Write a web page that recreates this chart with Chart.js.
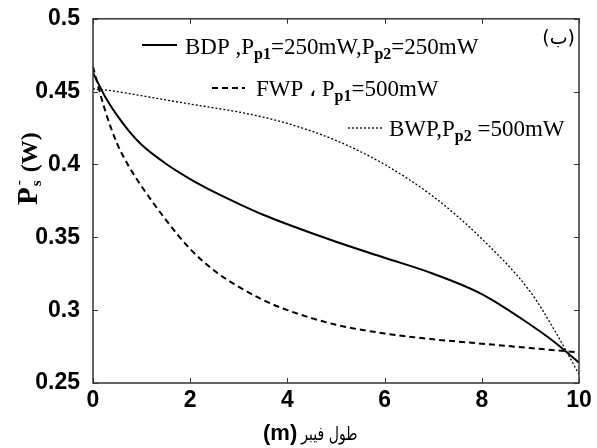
<!DOCTYPE html>
<html>
<head>
<meta charset="utf-8">
<script src="https://cdn.jsdelivr.net/npm/chart.js@4.4.1/dist/chart.umd.min.js"></script>
<style>
  body { margin: 0; background: #fff; }
  canvas { display: block; }
</style>
</head>
<body>
<canvas id="grafico" width="597" height="448"></canvas>
<script>
  // posicoes ao longo da fibra (m)
  const posicoes = [0, 0.25, 0.5, 0.75, 1, 1.5, 2, 2.5, 3, 3.5, 4, 5, 6, 7, 8, 9, 9.5, 10];

  // potencia do sinal P_s^- (W) para cada configuracao de bombeio
  const bdp = [0.463, 0.4465, 0.4335, 0.4225, 0.4135, 0.4005, 0.3900, 0.3810, 0.3730, 0.3655, 0.359, 0.347, 0.336, 0.325, 0.311, 0.290, 0.278, 0.264];
  const fwp = [0.467, 0.437, 0.414, 0.398, 0.385, 0.362, 0.342, 0.327, 0.316, 0.307, 0.300, 0.290, 0.284, 0.280, 0.277, 0.274, 0.2725, 0.271];
  const bwp = [0.452, 0.4512, 0.4500, 0.4486, 0.4472, 0.4443, 0.4415, 0.4388, 0.4360, 0.4325, 0.4282, 0.4165, 0.4000, 0.3780, 0.3490, 0.3125, 0.2860, 0.2560];

  const nomesSeries = ["BDP", "FWP", "BWP"];

  // textos da legenda, em pedacos (normal / subscrito)
  const textosLegenda = [
    [["BDP ,P", ""], ["p1", "sub"], ["=250mW,P", ""], ["p2", "sub"], ["=250mW", ""]],
    [["FWP \u060C P", ""], ["p1", "sub"], ["=500mW", ""]],
    [["BWP,P", ""], ["p2", "sub"], [" =500mW", ""]],
  ];

  const ticksX = [0, 2, 4, 6, 8, 10];
  const ticksY = [0.25, 0.3, 0.35, 0.4, 0.45, 0.5];

  const tituloX = ["(m)", "طول فیبر"];
  const rotuloPainel = "(ب)";

  function pontos(ys) {
    return posicoes.map((x, i) => ({ x: x, y: ys[i] }));
  }

  const estilos = [
    { borderWidth: 2, borderDash: [] },
    { borderWidth: 2, borderDash: [6, 4] },
    { borderWidth: 1.3, borderDash: [2, 2] },
  ];

  const dados = {
    datasets: [bdp, fwp, bwp].map((serie, i) => ({
      label: nomesSeries[i],
      data: pontos(serie),
      borderColor: "#000",
      borderWidth: estilos[i].borderWidth,
      borderDash: estilos[i].borderDash,
      pointRadius: 0,
      fill: false,
      cubicInterpolationMode: "monotone",
    })),
  };

  const serif = "'Liberation Serif', 'Times New Roman', serif";

  // moldura com marcas de escala para dentro, legenda e titulos
  const moldura = {
    id: "moldura",
    afterDatasetsDraw(chart) {
      const ctx = chart.ctx;
      const area = chart.chartArea;
      const sx = chart.scales.x;
      const sy = chart.scales.y;
      ctx.save();
      ctx.strokeStyle = "#333";
      ctx.lineWidth = 1.5;
      ctx.setLineDash([]);
      ctx.strokeRect(area.left, area.top, area.right - area.left, area.bottom - area.top);
      ctx.lineWidth = 1;
      ctx.beginPath();
      ticksX.forEach((v) => {
        const px = Math.round(sx.getPixelForValue(v)) + 0.5;
        ctx.moveTo(px, area.bottom); ctx.lineTo(px, area.bottom - 5);
        ctx.moveTo(px, area.top); ctx.lineTo(px, area.top + 5);
      });
      ticksY.forEach((v) => {
        const py = Math.round(sy.getPixelForValue(v)) + 0.5;
        ctx.moveTo(area.left, py); ctx.lineTo(area.left + 5, py);
        ctx.moveTo(area.right, py); ctx.lineTo(area.right - 5, py);
      });
      ctx.stroke();

      // legenda
      const posLegenda = [
        { x0: 142, x1: 177, yl: 45, xt: 185, yt: 54 },
        { x0: 212, x1: 245, yl: 88, xt: 256, yt: 96 },
        { x0: 348, x1: 383, yl: 128, xt: 389, yt: 136 },
      ];
      ctx.fillStyle = "#000";
      ctx.textBaseline = "alphabetic";
      ctx.textAlign = "left";
      posLegenda.forEach((p, i) => {
        ctx.strokeStyle = "#000";
        ctx.lineWidth = estilos[i].borderWidth;
        ctx.setLineDash(estilos[i].borderDash);
        ctx.beginPath();
        ctx.moveTo(p.x0, p.yl);
        ctx.lineTo(p.x1, p.yl);
        ctx.stroke();
        let x = p.xt;
        textosLegenda[i].forEach(([txt, tipo]) => {
          if (tipo === "sub") {
            ctx.font = "bold 16px " + serif;
            ctx.fillText(txt, x, p.yt + 5);
          } else {
            ctx.font = "23px " + serif;
            ctx.fillText(txt, x, p.yt);
          }
          x += ctx.measureText(txt).width;
        });
      });
      ctx.setLineDash([]);

      // rotulo do painel
      ctx.font = "19px 'DejaVu Sans', sans-serif";
      ctx.textAlign = "right";
      ctx.fillText(rotuloPainel, 575, 44);

      // titulo do eixo x: (m) em negrito, texto arabe comprimido na largura
      ctx.textAlign = "left";
      ctx.font = "bold 22px 'Liberation Sans', Arial, sans-serif";
      const w1 = ctx.measureText(tituloX[0] + " ").width;
      const xt = 263;
      ctx.fillText(tituloX[0], xt, 440);
      ctx.font = "19px 'DejaVu Sans', sans-serif";
      const wa = ctx.measureText(tituloX[1]).width;
      ctx.save();
      ctx.translate(xt + w1 - 2, 440);
      ctx.scale(56 / wa, 1);
      ctx.fillText(tituloX[1], 0, 0);
      ctx.restore();

      // titulo do eixo y: P_s^- (W)
      ctx.save();
      ctx.translate(37, 205);
      ctx.rotate(-Math.PI / 2);
      ctx.font = "bold 29px " + serif;
      ctx.fillText("P", 0, 0);
      const wp = ctx.measureText("P").width;
      ctx.font = "bold 15px " + serif;
      ctx.fillText("s", wp + 1, 4);
      ctx.fillText("-", wp + 2, -14);
      ctx.font = "bold 24px " + serif;
      ctx.fillText("(W)", wp + 15, 0);
      ctx.restore();

      ctx.restore();
    },
  };

  const fonteTicks = { family: "'Liberation Sans', Arial, sans-serif", size: 23, weight: "bold" };

  const config = {
    type: "line",
    data: dados,
    options: {
      responsive: false,
      animation: false,
      layout: { padding: { left: 0, top: 17, right: 18, bottom: 0 } },
      plugins: { legend: { display: false }, tooltip: { enabled: false } },
      scales: {
        x: {
          type: "linear",
          min: 0,
          max: 10,
          afterBuildTicks: (s) => { s.ticks = ticksX.map((v) => ({ value: v })); },
          afterFit: (s) => { s.height = 65; },
          grid: { display: false },
          border: { display: false },
          ticks: { font: fonteTicks, color: "#000", padding: -4, maxRotation: 0 },
        },
        y: {
          min: 0.25,
          max: 0.5,
          afterBuildTicks: (s) => { s.ticks = ticksY.map((v) => ({ value: v })); },
          afterFit: (s) => { s.width = 93; },
          grid: { display: false },
          border: { display: false },
          ticks: {
            font: fonteTicks,
            color: "#000",
            padding: 5,
            callback: (v) => String(+v.toFixed(2)),
          },
        },
      },
    },
    plugins: [moldura],
  };

  const grafico = new Chart(document.getElementById("grafico"), config);
</script>
</body>
</html>
